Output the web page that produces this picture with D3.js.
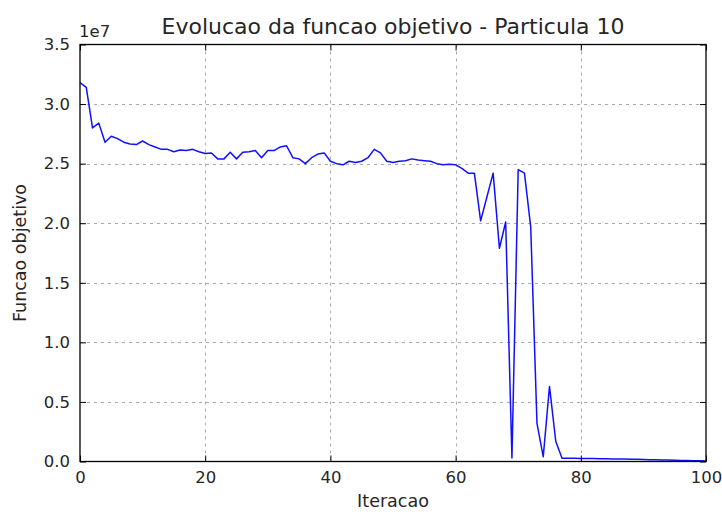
<!DOCTYPE html>
<html>
<head>
<meta charset="utf-8">
<script src="https://cdn.jsdelivr.net/npm/d3@7"></script>
<style>
  html, body { margin: 0; padding: 0; background: #fff; }
  svg { display: block; }
  text { font-family: "DejaVu Sans", sans-serif; fill: #262626; }
</style>
</head>
<body>
<svg id="chart" width="722" height="512"></svg>
<script>
// Objective function value per iteration (units of 1e7)
const iteracoes = d3.range(0, 101);
const funcaoObjetivo = [
  3.18, 3.14, 2.80, 2.84, 2.68, 2.73, 2.71, 2.68, 2.665, 2.66,
  2.69, 2.66, 2.64, 2.62, 2.62, 2.60, 2.615, 2.61, 2.62, 2.60,
  2.585, 2.59, 2.54, 2.54, 2.595, 2.54, 2.595, 2.60, 2.61, 2.55,
  2.61, 2.61, 2.64, 2.65, 2.55, 2.54, 2.50, 2.55, 2.58, 2.59,
  2.52, 2.50, 2.49, 2.52, 2.51, 2.52, 2.55, 2.62, 2.59, 2.52,
  2.51, 2.52, 2.525, 2.54, 2.53, 2.525, 2.52, 2.50, 2.49, 2.495,
  2.49, 2.46, 2.42, 2.42, 2.02, 2.22, 2.42, 1.79, 2.01, 0.03,
  2.45, 2.42, 1.97, 0.32, 0.04, 0.63, 0.17, 0.027, 0.028, 0.027,
  0.026, 0.025, 0.025, 0.024, 0.023, 0.022, 0.022, 0.021, 0.019, 0.018,
  0.016, 0.015, 0.014, 0.013, 0.012, 0.010, 0.009, 0.008, 0.007, 0.006,
  0.004
];
const xTicks = [0, 20, 40, 60, 80, 100];
const yTicks = [0.0, 0.5, 1.0, 1.5, 2.0, 2.5, 3.0, 3.5];

const titulo = "Evolucao da funcao objetivo - Particula 10";
const rotuloX = "Iteracao";
const rotuloY = "Funcao objetivo";
const offsetTexto = "1e7";

const margin = { left: 80, right: 16, top: 44.5, bottom: 50.5 };
const W = 722, H = 512;
const svg = d3.select("#chart");

const x = d3.scaleLinear().domain([0, 100]).range([margin.left, W - margin.right]);
const y = d3.scaleLinear().domain([0, 3.5]).range([H - margin.bottom, margin.top]);

const fsTick = 16.5;
const fsLabel = 17.5;

// grid lines
const grid = svg.append("g");
grid.selectAll(".gx").data(xTicks.slice(1, -1)).join("line")
  .attr("x1", d => Math.round(x(d)) + 0.5).attr("x2", d => Math.round(x(d)) + 0.5)
  .attr("y1", y(3.5)).attr("y2", y(0))
  .attr("stroke", "#aaaaaa").attr("stroke-width", 1).attr("stroke-dasharray", "3,4");
grid.selectAll(".gy").data(yTicks.slice(1, -1)).join("line")
  .attr("y1", d => Math.round(y(d)) + 0.5).attr("y2", d => Math.round(y(d)) + 0.5)
  .attr("x1", x(0)).attr("x2", x(100))
  .attr("stroke", "#aaaaaa").attr("stroke-width", 1).attr("stroke-dasharray", "3,4");

// data line
const line = d3.line().x((d, i) => x(iteracoes[i])).y(d => y(d));
svg.append("path").datum(funcaoObjetivo)
  .attr("d", line).attr("fill", "none")
  .attr("stroke", "#1010ff").attr("stroke-width", 1.5).attr("stroke-linejoin", "round");

// axes with inward ticks on all four sides
const tl = 6;
svg.append("g").attr("transform", `translate(0,${y(0)})`)
  .call(d3.axisBottom(x).tickValues(xTicks).tickSize(-tl).tickPadding(10).tickFormat(d3.format("d")))
  .call(g => g.select(".domain").remove());
svg.append("g").attr("transform", `translate(0,${y(3.5)})`)
  .call(d3.axisTop(x).tickValues(xTicks).tickSize(-tl).tickFormat(""))
  .call(g => g.select(".domain").remove());
svg.append("g").attr("transform", `translate(${x(0)},0)`)
  .call(d3.axisLeft(y).tickValues(yTicks).tickSize(-tl).tickPadding(10).tickFormat(d3.format(".1f")))
  .call(g => g.select(".domain").remove());
svg.append("g").attr("transform", `translate(${x(100)},0)`)
  .call(d3.axisRight(y).tickValues(yTicks).tickSize(-tl).tickFormat(""))
  .call(g => g.select(".domain").remove());

svg.selectAll(".tick line").attr("stroke", "#000").attr("stroke-width", 1);
svg.selectAll(".tick text").attr("font-size", fsTick).attr("font-family", "DejaVu Sans, sans-serif").attr("fill", "#262626");

// frame
svg.append("rect")
  .attr("x", x(0)).attr("y", y(3.5))
  .attr("width", x(100) - x(0)).attr("height", y(0) - y(3.5))
  .attr("fill", "none").attr("stroke", "#000").attr("stroke-width", 1.3);

// texts
svg.append("text").attr("x", (x(0) + x(100)) / 2).attr("y", 34)
  .attr("text-anchor", "middle").attr("font-size", 22).text(titulo);
svg.append("text").attr("x", x(0) - 1).attr("y", 37)
  .attr("font-size", fsTick).text(offsetTexto);
svg.append("text").attr("x", (x(0) + x(100)) / 2).attr("y", 507)
  .attr("text-anchor", "middle").attr("font-size", fsLabel).text(rotuloX);
svg.append("text").attr("transform", `translate(26,${(y(0) + y(3.5)) / 2}) rotate(-90)`)
  .attr("text-anchor", "middle").attr("font-size", fsLabel).text(rotuloY);
</script>
</body>
</html>
